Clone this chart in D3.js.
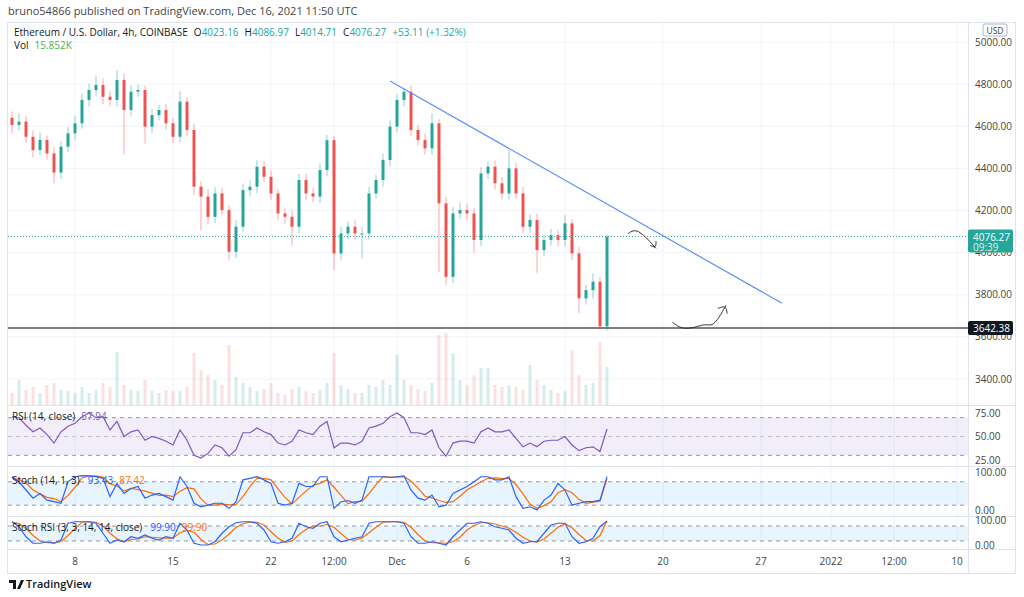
<!DOCTYPE html>
<html>
<head>
<meta charset="utf-8">
<script src="https://cdn.jsdelivr.net/npm/d3@7"></script>
<style>
  body { margin: 0; background: #fff; }
  svg { font-family: "Open Sans", "DejaVu Sans", sans-serif; }
</style>
</head>
<body>
<svg id="chart" width="1024" height="597"></svg>
<script>
// 12h candles starting Nov 3 2021 12:00 UTC
const startTime = Date.UTC(2021, 10, 3, 12);
const closes = [4606,4622,4550,4487,4535,4471,4380,4503,4566,4614,
  4725,4772,4796,4740,4725,4820,4677,4764,4772,4598,
  4653,4677,4614,4550,4717,4582,4313,4266,4170,4281,
  4202,4004,4123,4297,4313,4408,4360,4281,4186,4170,
  4123,4345,4281,4266,4392,4534,3996,4091,4123,4091,
  4091,4281,4345,4440,4598,4725,4764,4582,4535,4495,
  4614,4234,3885,4186,4202,4186,4060,4376,4408,4329,
  4281,4400,4281,4123,4155,4012,4060,4083,4060,4139,
  3996,3783,3822,3862,3650,4076];
const wickUp = [30,40,25,30,35,20,30,25,30,35,30,30,45,30,25,47,30,30,25,20,
  30,25,30,25,48,20,30,25,35,30,25,20,30,30,30,32,25,30,20,25,
  30,30,30,25,30,25,20,30,25,30,30,30,25,30,30,25,16,30,25,30,
  47,20,30,30,35,30,25,30,24,30,30,87,25,30,25,30,25,30,25,40,
  20,30,25,40,20,10];
const wickDn = [40,25,30,35,25,30,50,30,25,30,25,30,30,35,30,30,210,30,25,80,
  30,25,30,30,25,30,40,160,35,30,25,40,30,25,30,30,25,30,30,35,
  90,30,30,25,30,30,80,30,25,30,120,30,25,30,30,25,30,30,25,30,
  30,325,40,30,25,30,60,30,25,30,30,30,25,30,30,110,30,25,30,30,
  30,70,30,40,10,20];
const volumes = [12,25,15,18,12,20,22,15,14,12,18,12,15,22,18,53,20,15,14,25,
  14,12,15,14,14,18,52,35,30,25,20,60,28,22,18,14,16,22,12,10,
  16,18,14,12,15,22,52,20,16,12,12,20,18,25,20,50,25,20,16,14,
  22,70,72,52,25,20,30,37,37,20,18,20,18,15,40,25,20,15,12,14,
  55,30,20,22,63,38];
const rsi = [71,70,62,55,59,52,43,55,61,64,71,75,70,71,57,66,50,55,57,46,
  50,48,45,41,57,46,30,27,32,41,38,29,36,54,54,59,55,52,43,41,
  45,57,54,52,61,66,38,43,43,41,45,59,61,64,71,75,70,54,54,52,
  57,38,29,43,45,45,43,55,59,55,55,57,48,39,43,39,45,46,46,50,
  41,35,38,39,34,57.94];
const stochK = [93,80,59,38,50,33,29,25,80,93,96,95,93,89,42,76,50,63,68,38,
  46,50,42,33,93,68,25,16,20,25,25,12,29,85,89,93,85,76,25,20,
  25,76,68,68,93,93,12,29,32,25,33,93,93,93,91,93,95,59,38,33,
  46,16,20,50,59,68,80,93,93,85,85,93,42,12,16,8,33,46,76,59,
  20,25,29,29,33,93.43];
const stochD = [90,86,77,59,49,40,37,29,45,66,90,95,95,92,75,69,56,63,60,56,
  51,45,46,42,56,65,62,36,20,20,23,21,22,42,68,89,89,85,62,40,
  23,40,56,71,76,85,66,45,24,29,30,50,73,93,92,92,93,82,64,43,
  39,32,27,29,43,59,69,80,89,90,88,88,73,49,23,12,19,29,52,60,
  52,35,25,28,30,87.42];
const srsiK = [97,77,37,11,11,17,11,24,91,97,97,97,91,51,11,24,17,37,31,44,
  31,24,37,31,91,64,11,4,4,17,51,77,93,97,97,91,64,17,11,17,
  31,91,77,71,91,97,37,17,24,31,37,91,97,97,97,97,91,37,11,11,
  17,11,4,37,64,91,91,97,91,77,71,64,31,11,17,17,51,84,91,91,
  37,11,17,31,77,99.9];
const srsiD = [95,90,70,42,20,13,13,17,42,70,95,97,95,80,51,29,17,26,28,37,
  35,33,31,31,53,62,55,26,6,8,24,48,74,89,96,95,84,57,31,15,
  20,46,66,80,80,86,75,50,26,24,31,53,75,95,97,97,95,75,46,20,
  13,13,11,17,35,64,82,93,93,88,80,71,55,35,20,15,28,51,75,89,
  73,46,22,20,42,99.9];
const priceTicks = [5000,4800,4600,4400,4200,4000,3800,3600,3400];
const timeTicks = [
  [Date.UTC(2021,10,8),'8'],[Date.UTC(2021,10,15),'15'],[Date.UTC(2021,10,22),'22'],
  [Date.UTC(2021,10,26,12),'12:00'],[Date.UTC(2021,11,1),'Dec'],[Date.UTC(2021,11,6),'6'],
  [Date.UTC(2021,11,13),'13'],[Date.UTC(2021,11,20),'20'],[Date.UTC(2021,11,27),'27'],
  [Date.UTC(2022,0,1),'2022'],[Date.UTC(2022,0,5,12),'12:00'],[Date.UTC(2022,0,10),'10']];
// drawings in data space: [time, price]
const trendLine = [[Date.UTC(2021,10,30,12),4815],[Date.UTC(2021,11,28,12),3760]];
const supportLevel = 3642.38;
const lastPrice = 4076.27;
const arrowDown = [[Date.UTC(2021,11,17,12),4090],[Date.UTC(2021,11,18,4),4120],[Date.UTC(2021,11,19,12),4020]];
const arrowDownHead = [[Date.UTC(2021,11,19,2),4035],[Date.UTC(2021,11,19,12),4020],[Date.UTC(2021,11,19,12),4055]];
const squiggle = [[Date.UTC(2021,11,20,16),3670],[Date.UTC(2021,11,21,8),3635],[Date.UTC(2021,11,22,8),3645],
  [Date.UTC(2021,11,23,0),3662],[Date.UTC(2021,11,23,12),3650],[Date.UTC(2021,11,24,0),3690],[Date.UTC(2021,11,24,12),3750]];
const squiggleHead = [[Date.UTC(2021,11,23,22),3735],[Date.UTC(2021,11,24,12),3750],[Date.UTC(2021,11,24,14),3710]];

const plotR = 968;
const svg = d3.select('#chart');
const x = d3.scaleUtc().domain([Date.UTC(2021,10,8), Date.UTC(2022,0,1)]).range([75, 831]);
const y = d3.scaleLinear().domain([3400, 5000]).range([379, 42]);
const yVol = d3.scaleLinear().domain([0, 72]).range([405, 333]);
const yRsi = d3.scaleLinear().domain([25, 75]).range([460, 413]);
const ySt = d3.scaleLinear().domain([0, 100]).range([513, 474]);
const ySr = d3.scaleLinear().domain([0, 100]).range([546, 521]);

const candles = closes.map((c, i) => {
  const o = i === 0 ? 4640 : closes[i - 1];
  return { t: startTime + i * 12 * 3600e3, o, c,
    h: Math.max(o, c) + wickUp[i], l: Math.min(o, c) - wickDn[i], v: volumes[i] };
});

// header
svg.append('text').attr('x', 8).attr('y', 15).attr('font-size', 11).attr('fill', '#444')
  .text('bruno54866 published on TradingView.com, Dec 16, 2021 11:50 UTC');

// frame and grid
svg.append('rect').attr('x', 7.5).attr('y', 22.5).attr('width', 1008).attr('height', 551)
  .attr('fill', 'none').attr('stroke', '#e0e3eb');
const grid = svg.append('g').attr('stroke', '#f0f3fa');
priceTicks.forEach(p => grid.append('line').attr('x1', 8).attr('x2', plotR).attr('y1', y(p)).attr('y2', y(p)));
timeTicks.forEach(([t]) => grid.append('line').attr('x1', x(t)).attr('x2', x(t)).attr('y1', 23).attr('y2', 549));
[405, 466, 516, 549].forEach(v => svg.append('line').attr('x1', 8).attr('x2', 1015)
  .attr('y1', v + 0.5).attr('y2', v + 0.5).attr('stroke', '#e0e3eb'));
svg.append('line').attr('x1', plotR + 0.5).attr('x2', plotR + 0.5).attr('y1', 23).attr('y2', 573).attr('stroke', '#e0e3eb');

// volume
svg.append('g').selectAll('rect').data(candles).join('rect')
  .attr('x', d => x(d.t) - 1.5).attr('width', 3)
  .attr('y', d => yVol(d.v)).attr('height', d => 405 - yVol(d.v))
  .attr('fill', d => d.c >= d.o ? 'rgba(38,166,154,0.2)' : 'rgba(239,83,80,0.18)');

// candles
const cg = svg.append('g');
cg.selectAll('line').data(candles).join('line')
  .attr('x1', d => x(d.t)).attr('x2', d => x(d.t)).attr('y1', d => y(d.h)).attr('y2', d => y(d.l))
  .attr('stroke', d => d.c >= d.o ? '#26a69a' : '#ef5350').attr('stroke-opacity', 0.5);
cg.selectAll('rect').data(candles).join('rect')
  .attr('x', d => x(d.t) - 1.5).attr('width', 3)
  .attr('y', d => y(Math.max(d.o, d.c))).attr('height', d => Math.max(1, Math.abs(y(d.o) - y(d.c))))
  .attr('fill', d => d.c >= d.o ? '#26a69a' : '#ef5350');

// drawings
const line = d3.line().x(d => x(d[0])).y(d => y(d[1]));
svg.append('path').attr('d', line(trendLine)).attr('stroke', '#5b8ff9').attr('stroke-width', 1.2).attr('fill', 'none');
svg.append('line').attr('x1', 8).attr('x2', plotR).attr('y1', y(supportLevel)).attr('y2', y(supportLevel))
  .attr('stroke', '#555').attr('stroke-width', 1.5);
svg.append('line').attr('x1', 8).attr('x2', plotR).attr('y1', y(lastPrice)).attr('y2', y(lastPrice))
  .attr('stroke', '#26a69a').attr('stroke-dasharray', '1,2');
[arrowDown, arrowDownHead, squiggle, squiggleHead].forEach(pts =>
  svg.append('path').attr('d', d3.line().curve(d3.curveBasis).x(d => x(d[0])).y(d => y(d[1]))(pts))
    .attr('stroke', '#333').attr('fill', 'none').attr('stroke-width', 1));

// price axis
const axT = svg.append('g').attr('font-size', 10).attr('fill', '#444');
priceTicks.forEach(p => axT.append('text').attr('x', 975).attr('y', y(p) + 3.5).text(p.toFixed(2)));
svg.append('rect').attr('x', 983).attr('y', 24).attr('width', 24).attr('height', 12).attr('rx', 2)
  .attr('fill', '#fff').attr('stroke', '#b2b5be');
svg.append('text').attr('x', 995).attr('y', 33.5).attr('text-anchor', 'middle').attr('font-size', 8.5).attr('fill', '#444').text('USD');
svg.append('rect').attr('x', 968).attr('y', y(lastPrice) - 7).attr('width', 45).attr('height', 23).attr('rx', 2).attr('fill', '#26a69a');
svg.append('text').attr('x', 973).attr('y', y(lastPrice) + 4).attr('font-size', 10).attr('fill', '#fff').text('4076.27');
svg.append('text').attr('x', 973).attr('y', y(lastPrice) + 14).attr('font-size', 10).attr('fill', '#d9f2ef').text('09:39');
svg.append('rect').attr('x', 968).attr('y', y(supportLevel) - 7).attr('width', 45).attr('height', 14).attr('rx', 2).attr('fill', '#131722');
svg.append('text').attr('x', 973).attr('y', y(supportLevel) + 4).attr('font-size', 10).attr('fill', '#fff').text('3642.38');

// legend (gaps via dx since svg collapses spaces)
function label(xx, yy, parts) {
  const t = svg.append('text').attr('x', xx).attr('y', yy).attr('font-size', 10).attr('fill', '#131722');
  parts.forEach(([s, c, gap]) => t.append('tspan').attr('fill', c).attr('dx', gap || 0).text(s));
}
const teal = '#26a69a';
label(14, 36, [['Ethereum / U.S. Dollar, 4h, COINBASE', '#131722'],
  ['O', '#131722', 6], ['4023.16', teal], ['H', '#131722', 6], ['4086.97', teal],
  ['L', '#131722', 6], ['4014.71', teal], ['C', '#131722', 6], ['4076.27', teal], ['+53.11 (+1.32%)', teal, 6]]);
label(14, 49, [['Vol', '#131722'], ['15.852K', '#4caf50', 6]]);

// indicator panes
function band(ys, lo, hi, fill) {
  svg.append('rect').attr('x', 8).attr('width', plotR - 8).attr('y', ys(hi)).attr('height', ys(lo) - ys(hi)).attr('fill', fill);
  [lo, hi].forEach(v => svg.append('line').attr('x1', 8).attr('x2', plotR).attr('y1', ys(v)).attr('y2', ys(v))
    .attr('stroke', '#9598a1').attr('stroke-dasharray', '4,4'));
}
function series(vals, ys, color) {
  svg.append('path').attr('d', d3.line().x((d, i) => x(candles[i].t)).y(d => ys(d))(vals))
    .attr('fill', 'none').attr('stroke', color).attr('stroke-width', 1.2);
}
band(yRsi, 30, 70, 'rgba(126,87,194,0.1)');
svg.append('line').attr('x1', 8).attr('x2', plotR).attr('y1', yRsi(50)).attr('y2', yRsi(50))
  .attr('stroke', '#c3c5cc').attr('stroke-dasharray', '4,4');
series(rsi, yRsi, '#7e57c2');
band(ySt, 20, 80, 'rgba(33,150,243,0.1)');
series(stochD, ySt, '#ff6d00');
series(stochK, ySt, '#2962ff');
band(ySr, 20, 80, 'rgba(33,150,243,0.1)');
series(srsiD, ySr, '#ff6d00');
series(srsiK, ySr, '#2962ff');

label(12, 420, [['RSI (14, close)', '#131722'], ['57.94', '#7e57c2', 6]]);
label(12, 484, [['Stoch (14, 1, 3)', '#131722'], ['93.43', '#2962ff', 8], ['87.42', '#ff6d00', 6]]);
label(12, 531, [['Stoch RSI (3, 3, 14, 14, close)', '#131722'], ['99.90', '#2962ff', 8], ['99.90', '#ff6d00', 6]]);
[75, 50, 25].forEach(v => axT.append('text').attr('x', 975).attr('y', yRsi(v) + 3.5).text(v.toFixed(2)));
[[100, ySt, 2], [0, ySt, 1], [100, ySr, 3], [0, ySr, 3]].forEach(([v, ys, off]) =>
  axT.append('text').attr('x', 975).attr('y', ys(v) + off).text(v.toFixed(2)));

// time axis
timeTicks.forEach(([t, s]) => axT.append('text').attr('x', x(t)).attr('y', 565)
  .attr('text-anchor', 'middle').text(s));

// logo
const logo = svg.append('g').attr('transform', 'translate(9,578)');
logo.append('path').attr('d', 'M0,2 h7 v9 h-3 v-6 h-4z M8,11 l4,-9 h3 l-4,9z').attr('fill', '#131722');
logo.append('text').attr('x', 17).attr('y', 10).attr('font-size', 11).attr('font-weight', 600)
  .attr('fill', '#131722').text('TradingView');
</script>
</body>
</html>
